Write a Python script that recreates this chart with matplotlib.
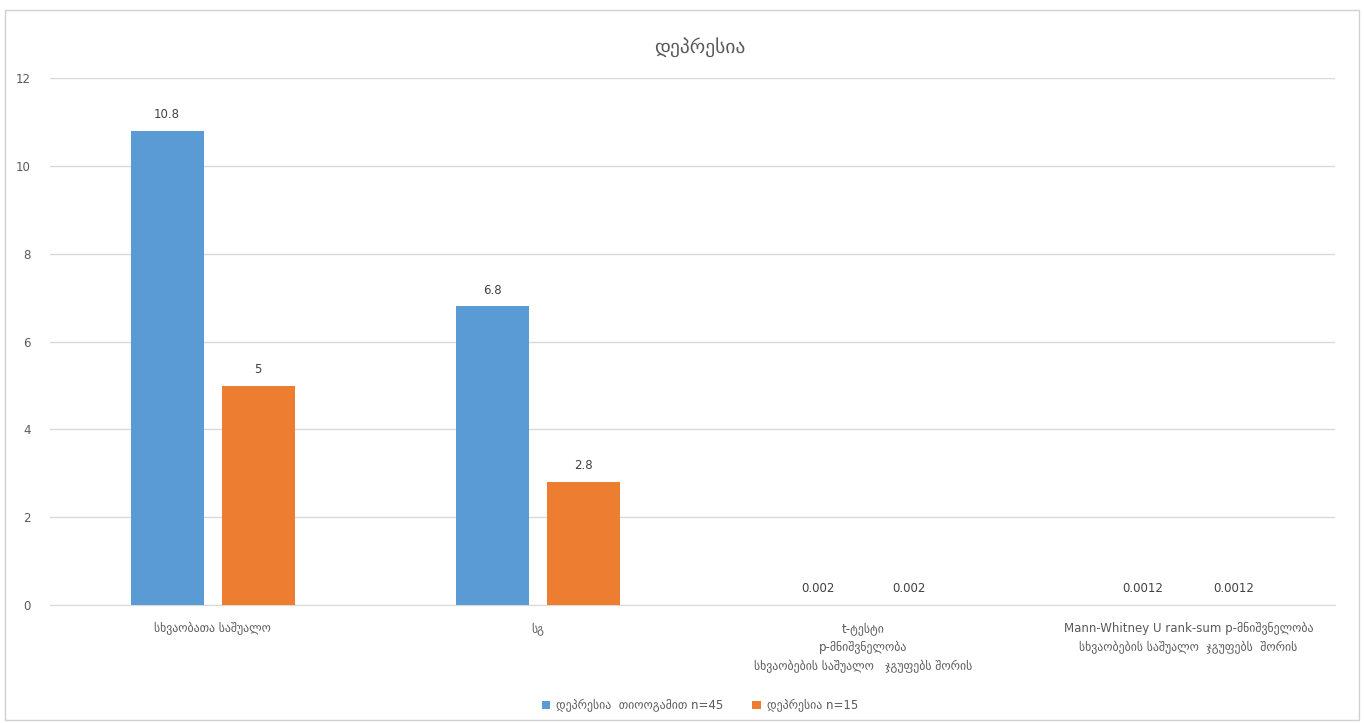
import numpy as np
import matplotlib.pyplot as plt
from matplotlib.patches import Rectangle

categories = [
    "სხვაობათა საშუალო",
    "სგ",
    "t-ტესტი\np-მნიშვნელობა\nსხვაობების საშუალო   ჯგუფებს შორის",
    "Mann-Whitney U rank-sum p-მნიშვნელობა\nსხვაობების საშუალო  ჯგუფებს  შორის",
]
group_a = [10.8, 6.8, 0.002, 0.0012]
group_b = [5, 2.8, 0.002, 0.0012]
label_a = "დეპრესია  თიოოგამით n=45"
label_b = "დეპრესია n=15"
title = "დეპრესია"

blue = "#5B9BD5"
orange = "#ED7D31"
text_grey = "#595959"
grid_grey = "#D9D9D9"

plt.rcParams["font.family"] = ["DejaVu Sans"]

fig = plt.figure(figsize=(13.64, 7.23), dpi=100)
fig.patches.append(Rectangle((0.004, 0.004), 0.992, 0.982, transform=fig.transFigure,
                             fill=False, edgecolor="#D0D0D0", linewidth=1))
ax = fig.add_axes([0.0367, 0.163, 0.942, 0.729])

x = np.arange(len(categories))
w = 0.225
off = 0.14
bars_a = ax.bar(x - off, group_a, w, color=blue, label=label_a, zorder=3)
bars_b = ax.bar(x + off, group_b, w, color=orange, label=label_b, zorder=3)

for bars, vals in ((bars_a, group_a), (bars_b, group_b)):
    for b, v in zip(bars, vals):
        ax.annotate(f"{v:g}", (b.get_x() + b.get_width() / 2, v),
                    xytext=(0, 7), textcoords="offset points",
                    ha="center", va="bottom", fontsize=8.5, color="#404040")

ax.set_xlim(-0.5, len(categories) - 0.55)
ax.set_ylim(0, 12)
ax.set_yticks(range(0, 13, 2))
ax.yaxis.grid(True, color=grid_grey, linewidth=1, zorder=0)
ax.set_axisbelow(True)
for s in ("top", "right", "left"):
    ax.spines[s].set_visible(False)
ax.spines["bottom"].set_color(grid_grey)
ax.tick_params(axis="y", length=0, labelsize=8.5, labelcolor=text_grey, pad=14)
ax.tick_params(axis="x", length=0, labelsize=8.5, labelcolor=text_grey, pad=12)
ax.set_xticks(x)
ax.set_xticklabels(categories, linespacing=1.6)

fig.text(0.513, 0.935, title, ha="center", va="center", fontsize=14, color=text_grey)
fig.legend(loc="center", bbox_to_anchor=(0.513, 0.024), ncol=2, frameon=False,
           fontsize=8.5, labelcolor=text_grey, handlelength=0.7, handleheight=0.7,
           columnspacing=2.5, handletextpad=0.5)

fig.savefig("out.png", dpi=100)
